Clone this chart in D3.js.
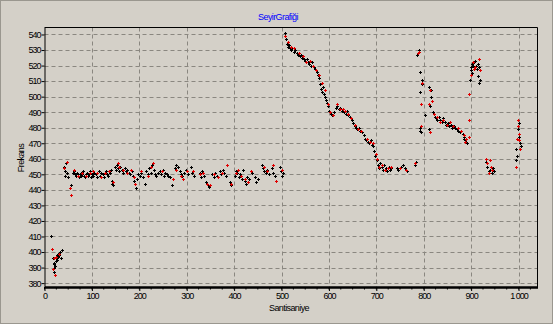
<!DOCTYPE html>
<html>
<head>
<meta charset="utf-8">
<script src="https://cdn.jsdelivr.net/npm/d3@7"></script>
<style>
  html, body { margin: 0; padding: 0; background: #d4d0c8; }
  svg { display: block; }
  .tick text { font-family: "Liberation Sans", Arial, sans-serif; font-size: 9px; letter-spacing: -1px; fill: #000; }
</style>
</head>
<body>
<svg id="chart"></svg>
<script>
// ölçüm noktaları [santisaniye, frekans]
const blackPoints = [
  [13,410],[18,396],[19,393],[20,390],[21,387],[22,391],[24,394],[25,396],[27,398],[28,397],[29,399],[31,398],[33,400],[35,396],[37,401],[21,392],[26,395],
  [41,455],[43,452],[44,449],[46,457],[48,451],[50,448],[55,443],
  [60,451],[62,452],[64,450],[66,449],[68,451],[70,450],[72,448],[74,450],[76,451],[78,449],[80,450],[82,452],[84,449],[86,448],[88,450],[90,451],[92,449],[94,450],[96,452],[98,448],[100,450],
  [102,449],[105,451],[108,450],[111,448],[114,452],[117,449],[120,451],[123,450],[126,448],[129,452],[132,450],[135,449],[138,451],[140,453],
  [142,446],[143,444],[145,443],
  [148,455],[150,453],[152,456],[155,454],[158,452],[160,455],[163,453],[166,451],[169,454],[172,452],[175,453],[178,451],[181,450],[184,452],[187,449],
  [189,446],[192,441],[195,447],[198,450],[201,449],[204,451],[207,448],[212,444],
  [215,452],[218,450],[221,454],[224,451],[227,456],[230,453],[233,450],[236,449],[239,451],
  [243,452],[246,450],[249,453],[252,449],[255,451],[258,450],[261,449],[265,448],[269,443],
  [275,454],[278,456],[281,455],[285,452],[288,450],[291,449],[295,451],[298,453],[302,450],
  [310,455],[312,451],[315,449],[327,451],[330,448],[333,452],[336,449],[340,445],[344,443],[348,442],
  [354,450],[357,448],[360,451],[363,449],[370,452],[373,450],[376,453],[379,451],[382,449],[391,445],[394,443],
  [401,449],[404,452],[407,451],[410,448],[413,450],[416,447],[419,453],[422,446],[425,444],[428,448],[431,447],[438,451],
  [445,448],[447,445],[450,447],[459,456],[461,454],[464,452],[467,451],[470,453],[473,450],[480,454],[483,451],[486,449],
  [496,455],[499,452],[502,449],[504,451],
  [508,541],[510,537],[512,534],[514,532],[516,533],[518,531],[520,530],[523,531],[526,529],[529,530],[532,528],[535,527],[538,526],[541,527],
  [544,525],[547,524],[550,523],[553,524],[556,522],[559,521],[562,520],[565,522],[568,519],[571,518],[574,516],[577,514],[580,512],[582,508],
  [584,505],[586,503],[588,506],[590,502],[592,500],[594,498],[596,496],[598,494],
  [601,491],[604,489],[607,488],[610,490],[615,493],[618,494],[621,492],[624,493],[627,491],[632,490],[635,489],[638,491],[641,488],[644,487],
  [648,485],[651,483],[654,481],[657,480],[660,479],[663,480],[666,478],[669,477],[673,475],
  [676,473],[679,472],[682,471],[685,470],[688,472],[691,469],[694,468],[696,465],[698,462],
  [701,459],[703,456],[705,454],[708,457],[711,455],[714,453],[717,456],[720,454],[723,452],[726,455],[729,453],[732,454],
  [743,454],[746,453],[752,455],[756,456],[760,454],[765,452],[781,456],[783,458],
  [786,527],[788,528],[790,530],[791,529],[792,516],[792,503],[793,480],[793,478],[795,477],[796,511],[797,508],[802,488],
  [812,506],[815,500],[816,504],[813,494],[812,479],[820,490],[823,487],
  [826,486],[829,485],[832,487],[835,485],[838,484],[841,486],[845,484],[848,482],[851,483],[854,481],[857,482],[860,480],[864,481],[867,480],
  [870,479],[873,478],[876,477],[883,476],[885,474],[887,472],[889,471],[891,470],[886,473],
  [897,511],[899,519],[900,517],[902,521],[903,520],[905,522],[901,515],[908,523],[910,520],[912,518],[914,521],[916,519],[915,513],[917,509],[918,511],
  [931,458],[934,455],[937,452],[940,453],[943,451],[946,454],[948,452],
  [998,479],[1000,474],[1003,470],[994,466],[995,459],[997,462],[1005,468],[1001,483]
];

const redPoints = [
  [16,402],[18,389],[22,385],[24,397],[30,399],[20,396],
  [48,458],[54,441],[56,437],[42,454],
  [63,453],[71,449],[79,451],[87,449],[95,451],[103,452],[110,451],[119,448],[128,451],[137,452],[144,445],
  [154,457],[157,455],[165,453],[174,451],[183,453],[188,448],[190,444],[203,452],[225,455],[228,457],[219,449],
  [247,452],[271,447],[277,453],[287,449],[293,447],[300,452],
  [314,452],[329,450],[335,451],[342,444],[350,443],[358,450],[365,448],[375,451],[384,456],[393,444],
  [403,451],[409,453],[415,449],[424,447],[430,445],[436,452],[462,455],[469,452],[482,456],[489,446],[500,453],
  [507,539],[513,535],[519,532],[527,531],[536,528],[545,526],[552,522],[560,523],[566,520],[573,517],[579,514],[585,509],[591,504],[597,495],
  [603,490],[609,488],[617,495],[623,492],[629,492],[634,491],[640,489],[646,486],[656,482],[662,479],[668,478],
  [680,473],[686,471],[692,470],[699,463],[702,460],[706,455],[713,456],[719,453],[725,454],[731,455],[749,454],[763,453],[782,457],
  [787,528],[789,529],[794,495],[794,481],[796,509],[814,504],[818,497],[811,495],[813,477],[821,489],
  [828,487],[834,484],[840,485],[850,482],[856,484],[862,481],[872,480],[878,478],
  [884,475],[888,471],[890,473],[895,474],[895,485],[895,502],[899,514],[903,522],[906,518],[909,519],[916,524],[918,517],
  [931,460],[933,457],[940,459],[942,455],[945,453],[938,451],
  [999,485],[999,481],[1001,476],[1002,472],[996,473],[1004,466],[995,455]
];

const yTicks = d3.range(380, 541, 10);
const xTicks = [0, 100, 200, 300, 400, 500, 600, 700, 800, 900, 1000];
const xTickLabels = ["0", "100", "200", "300", "400", "500", "600", "700", "800", "900", "1 000"];
const xMinorTicks = d3.range(0, 1026, 25);

const width = 553, height = 324;
const plot = { left: 44.5, right: 537.5, top: 27.5, bottom: 287 };

const svg = d3.select("#chart").attr("width", width).attr("height", height);

// çerçeve
svg.append("rect")
    .attr("x", 0.5).attr("y", 0.5)
    .attr("width", width - 1).attr("height", height - 1)
    .attr("fill", "#d4d0c8")
    .attr("stroke", "#9a978f");

const xScale = d3.scaleLinear().domain([0, 1040]).range([plot.left, plot.right]);
const yScale = d3.scaleLinear().domain([377.5, 544.5]).range([plot.bottom, plot.top]);

// grid
svg.append("g").selectAll("line")
    .data(yTicks)
    .join("line")
    .attr("x1", plot.left).attr("x2", plot.right)
    .attr("y1", d => Math.round(yScale(d)) + 0.5)
    .attr("y2", d => Math.round(yScale(d)) + 0.5)
    .attr("stroke", "#8a8780")
    .attr("stroke-dasharray", "4,3");

svg.append("g").selectAll("line")
    .data(xTicks.slice(1))
    .join("line")
    .attr("x1", d => Math.round(xScale(d)) + 0.5)
    .attr("x2", d => Math.round(xScale(d)) + 0.5)
    .attr("y1", plot.top).attr("y2", plot.bottom)
    .attr("stroke", "#8a8780")
    .attr("stroke-dasharray", "4,3");

// top / right border
svg.append("path")
    .attr("d", `M${plot.left},${plot.top}H${plot.right}V${plot.bottom}`)
    .attr("fill", "none")
    .attr("stroke", "#000");

// axes
const yAxis = d3.axisLeft(yScale).tickValues(yTicks).tickSize(3).tickPadding(1).tickSizeOuter(0);
svg.append("g")
    .attr("transform", `translate(${plot.left},0)`)
    .call(yAxis)
    .call(g => g.selectAll("text").attr("font-family", null).attr("font-size", null));

const xAxis = d3.axisBottom(xScale).tickValues(xTicks)
    .tickFormat((d, i) => xTickLabels[i])
    .tickSize(4).tickPadding(2).tickSizeOuter(0);
const gx = svg.append("g")
    .attr("transform", `translate(0,${plot.bottom})`)
    .call(xAxis)
    .call(g => g.selectAll("text").attr("font-family", null).attr("font-size", null));
gx.select(".domain").attr("stroke-width", 2.5);

svg.append("g").selectAll("line")
    .data(xMinorTicks)
    .join("line")
    .attr("x1", d => xScale(d)).attr("x2", d => xScale(d))
    .attr("y1", plot.bottom).attr("y2", plot.bottom + 2.5)
    .attr("stroke", "#000");

// points
const cross = "M-1.5,0H1.5M0,-1.5V1.5";
function drawPoints(data, color) {
    svg.append("g").selectAll("path")
        .data(data)
        .join("path")
        .attr("d", cross)
        .attr("transform", d => `translate(${Math.round(xScale(d[0])) + 0.5},${Math.round(yScale(d[1])) + 0.5})`)
        .attr("fill", "none")
        .attr("stroke", color)
        .attr("stroke-width", 1);
}
drawPoints(blackPoints, "#000");
drawPoints(redPoints, "#e00000");

// titles
svg.append("text")
    .attr("x", 278).attr("y", 20)
    .attr("text-anchor", "middle")
    .attr("font-family", "Liberation Sans, Arial, sans-serif")
    .attr("font-size", 9).attr("letter-spacing", -0.6)
    .attr("fill", "#0000ff")
    .text("SeyirGrafiği");

svg.append("text")
    .attr("transform", "translate(24,158) rotate(-90)")
    .attr("text-anchor", "middle")
    .attr("font-family", "Liberation Sans, Arial, sans-serif")
    .attr("font-size", 9).attr("letter-spacing", -0.6)
    .attr("fill", "#000")
    .text("Frekans");

svg.append("text")
    .attr("x", 289).attr("y", 311)
    .attr("text-anchor", "middle")
    .attr("font-family", "Liberation Sans, Arial, sans-serif")
    .attr("font-size", 9).attr("letter-spacing", -0.6)
    .attr("fill", "#000")
    .text("Santisaniye");
</script>
</body>
</html>
